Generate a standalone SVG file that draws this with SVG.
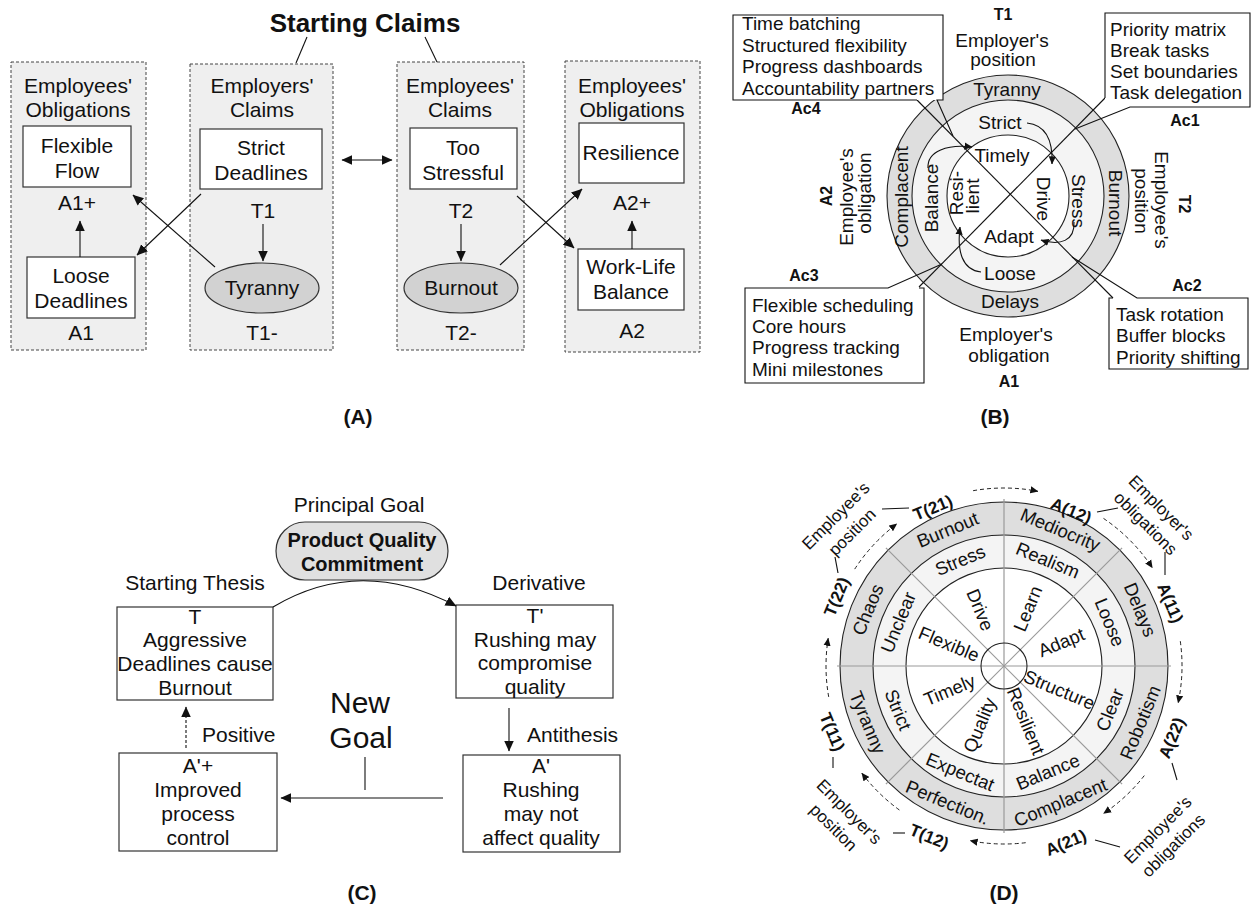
<svg xmlns="http://www.w3.org/2000/svg" width="1252" height="922" viewBox="0 0 1252 922">
<defs>
<marker id="ah" viewBox="0 0 10 10" refX="9.5" refY="5" markerWidth="11" markerHeight="11" markerUnits="userSpaceOnUse" orient="auto-start-reverse"><path d="M0,0.5 L10,5 L0,9.5 Z" fill="#111"/></marker>
<marker id="ahs" viewBox="0 0 10 10" refX="9.5" refY="5" markerWidth="8" markerHeight="8" markerUnits="userSpaceOnUse" orient="auto"><path d="M0,0.5 L10,5 L0,9.5 Z" fill="#111"/></marker>
<style>
text { font-family: "Liberation Sans", Arial, sans-serif; fill: #111; }
.a { font-size: 21px; text-anchor: middle; }
.title { font-size: 26px; font-weight: bold; text-anchor: middle; }
.lbl { font-size: 21px; font-weight: bold; text-anchor: middle; }
.b { font-size: 19px; }
.bm { font-size: 19px; text-anchor: middle; }
.bc { font-size: 19px; text-anchor: middle; dominant-baseline: central; }
.bb { font-size: 16px; font-weight: bold; text-anchor: middle; }
.bbc { font-size: 16px; font-weight: bold; text-anchor: middle; dominant-baseline: central; }
.c { font-size: 21px; text-anchor: middle; }
.cs { font-size: 21px; }
.cb { font-size: 20px; font-weight: bold; text-anchor: middle; }
.big { font-size: 30px; text-anchor: middle; }
.d { font-size: 18.5px; text-anchor: middle; dominant-baseline: central; }
.dl { font-size: 17px; text-anchor: middle; dominant-baseline: central; }
.db { font-size: 17px; font-weight: bold; text-anchor: middle; dominant-baseline: central; }
.grp { fill: #efefef; stroke: #444; stroke-width: 1; stroke-dasharray: 3 2; }
.box { fill: #fff; stroke: #333; stroke-width: 1.2; }
.ell { fill: #d2d2d2; stroke: #333; stroke-width: 1.2; }
.ln { stroke: #111; stroke-width: 1.1; fill: none; }
.arr { stroke: #111; stroke-width: 1.1; fill: none; marker-end: url(#ah); }
.dash { stroke: #111; stroke-width: 1.1; fill: none; stroke-dasharray: 3 2; marker-end: url(#ah); }
.darc { stroke: #222; stroke-width: 1; fill: none; stroke-dasharray: 4 3; marker-end: url(#ahs); }
.ring1 { fill: #dedede; stroke: #222; stroke-width: 1.1; }
.ring2 { fill: #f4f4f4; stroke: #222; stroke-width: 1.1; }
.ring3 { fill: #fff; stroke: #222; stroke-width: 1.1; }
.spoke { stroke: #999; stroke-width: 1.2; }
</style>
</defs>
<rect width="1252" height="922" fill="#fff"/>

<!-- ================= PANEL A ================= -->
<g id="A-title">
<text class="title" x="365" y="32">Starting Claims</text>
</g>
<g id="A-box1">
<rect class="grp" x="11" y="62" width="135" height="288"/>
<text class="a" x="78" y="93">Employees'</text>
<text class="a" x="78" y="117">Obligations</text>
</g>
<g id="A-flexflow"><rect class="box" x="23" y="126" width="108" height="61"/><text class="a" x="77" y="153">Flexible</text><text class="a" x="77" y="178">Flow</text><text class="a" x="77" y="210">A1+</text></g>
<g id="A-loose"><rect class="box" x="27" y="257" width="108" height="61"/><text class="a" x="81" y="283">Loose</text><text class="a" x="81" y="308">Deadlines</text><text class="a" x="81" y="340">A1</text></g>

<g id="A-box2">
<rect class="grp" x="190" y="64" width="143" height="286"/>
<text class="a" x="262" y="93">Employers'</text>
<text class="a" x="262" y="117">Claims</text>
</g>
<g id="A-strict"><rect class="box" x="200" y="129" width="122" height="60"/><text class="a" x="261" y="155">Strict</text><text class="a" x="261" y="180">Deadlines</text><text class="a" x="263" y="218">T1</text></g>
<g id="A-tyranny"><ellipse class="ell" cx="262" cy="288" rx="57" ry="25"/><text class="a" x="262" y="295">Tyranny</text><text class="a" x="262" y="340">T1-</text></g>

<g id="A-box3">
<rect class="grp" x="397" y="62" width="127" height="288"/>
<text class="a" x="460" y="93">Employees'</text>
<text class="a" x="460" y="117">Claims</text>
</g>
<g id="A-stressful"><rect class="box" x="410" y="128" width="107" height="61"/><text class="a" x="463" y="155">Too</text><text class="a" x="463" y="180">Stressful</text><text class="a" x="461" y="218">T2</text></g>
<g id="A-burnout"><ellipse class="ell" cx="461" cy="288" rx="57" ry="25"/><text class="a" x="461" y="295">Burnout</text><text class="a" x="461" y="340">T2-</text></g>

<g id="A-box4">
<rect class="grp" x="565" y="61" width="135" height="291"/>
<text class="a" x="632" y="93">Employees'</text>
<text class="a" x="632" y="117">Obligations</text>
</g>
<g id="A-resilience"><rect class="box" x="579" y="123" width="105" height="60"/><text class="a" x="631" y="160">Resilience</text><text class="a" x="632" y="210">A2+</text></g>
<g id="A-worklife"><rect class="box" x="578" y="249" width="106" height="61"/><text class="a" x="631" y="274">Work-Life</text><text class="a" x="631" y="299">Balance</text><text class="a" x="632" y="338">A2</text></g>

<g id="A-connectors">
<line class="ln" x1="307" y1="37" x2="296" y2="63"/>
<line class="ln" x1="425" y1="37" x2="437" y2="62"/>
<line class="arr" x1="80" y1="257" x2="80" y2="221"/>
<line class="arr" x1="263" y1="224" x2="263" y2="261"/>
<line class="arr" x1="461" y1="224" x2="461" y2="261"/>
<line class="arr" x1="632" y1="249" x2="632" y2="221"/>
<line class="arr" x1="201" y1="194" x2="137" y2="255"/>
<line class="arr" x1="215" y1="267" x2="133" y2="195"/>
<line class="arr" x1="517" y1="196" x2="574" y2="248"/>
<line class="arr" x1="500" y1="265" x2="582" y2="189"/>
<line class="arr" x1="342" y1="160" x2="392" y2="160" style="marker-start:url(#ah)"/>
</g>
<text class="lbl" x="358" y="424">(A)</text>

<!-- ================= PANEL B ================= -->
<g id="B-rings">
<circle class="ring1" cx="1008" cy="196" r="121"/>
<circle class="ring2" cx="1008" cy="196" r="96"/>
<circle class="ring3" cx="1008" cy="196" r="61"/>
</g>
<g id="B-connectors">
<line class="ln" x1="917" y1="100" x2="1113" y2="298"/>
<line class="ln" x1="919" y1="287" x2="1105" y2="98"/>
<path class="arr" d="M1027,123 C1046,125 1053,141 1052,164" style="marker-end:url(#ahs)"/>
<path class="arr" d="M928,168 C927,151 948,144 972,147" style="marker-end:url(#ahs)"/>
<path class="arr" d="M981,272 C962,270 957,251 960,227" style="marker-end:url(#ahs)"/>
<path class="arr" d="M1074,222 C1075,241 1060,246 1041,240" style="marker-end:url(#ahs)"/>
</g>
<g id="B-ring-labels">
<text class="bm" x="1007" y="96">Tyranny</text>
<text class="bm" x="1000" y="129">Strict</text>
<text class="bm" x="1002" y="162">Timely</text>
<text class="bc" transform="translate(1043,199) rotate(90)">Drive</text>
<text class="bc" transform="translate(1078,201) rotate(90)">Stress</text>
<text class="bc" transform="translate(1115,203) rotate(90)">Burnout</text>
<text class="bc" transform="translate(901,197) rotate(-90)">Complacent</text>
<text class="bc" transform="translate(931,198) rotate(-90)">Balance</text>
<text class="bc" transform="translate(956,193) rotate(-90)">Resi-</text>
<text class="bc" transform="translate(972,196) rotate(-90)">lient</text>
<text class="bm" x="1009" y="243">Adapt</text>
<text class="bm" x="1010" y="280">Loose</text>
<text class="bm" x="1010" y="308">Delays</text>
</g>
<g id="B-positions">
<text class="bb" x="1003" y="20">T1</text>
<text class="bm" x="1002" y="47">Employer's</text>
<text class="bm" x="1003" y="66">position</text>
<text class="bc" transform="translate(1161,200) rotate(90)">Employee's</text>
<text class="bc" transform="translate(1141,201) rotate(90)">position</text>
<text class="bbc" transform="translate(1184,204) rotate(90)">T2</text>
<text class="bbc" transform="translate(826,196) rotate(-90)">A2</text>
<text class="bc" transform="translate(846,197) rotate(-90)">Employee's</text>
<text class="bc" transform="translate(864,193) rotate(-90)">obligation</text>
<text class="bm" x="1006" y="341">Employer's</text>
<text class="bm" x="1009" y="362">obligation</text>
<text class="bb" x="1009" y="387">A1</text>
</g>
<g id="B-Ac4">
<rect x="733" y="15" width="210" height="85" fill="#fff"/>
<path class="ln" d="M917,100 H733 V15 H943 V100 H937 L953,136"/>
<text class="b" x="742" y="30">Time batching</text>
<text class="b" x="742" y="52">Structured flexibility</text>
<text class="b" x="742" y="73">Progress dashboards</text>
<text class="b" x="742" y="95">Accountability partners</text>
<text class="bb" x="806" y="114">Ac4</text>
</g>
<g id="B-Ac1">
<rect x="1105" y="13" width="145" height="94" fill="#fff"/>
<path class="ln" d="M1105,98 V13 H1250 V107 H1130 L1075,129"/>
<text class="b" x="1110" y="36">Priority matrix</text>
<text class="b" x="1110" y="57">Break tasks</text>
<text class="b" x="1110" y="78">Set boundaries</text>
<text class="b" x="1110" y="99">Task delegation</text>
<text class="bb" x="1185" y="126">Ac1</text>
</g>
<g id="B-Ac3">
<rect x="745" y="288" width="179" height="95" fill="#fff"/>
<path class="ln" d="M919,288 H924 V383 H745 V288 H888 L942,264"/>
<text class="b" x="752" y="312">Flexible scheduling</text>
<text class="b" x="752" y="333">Core hours</text>
<text class="b" x="752" y="354">Progress tracking</text>
<text class="b" x="752" y="376">Mini milestones</text>
<text class="bb" x="804" y="281">Ac3</text>
</g>
<g id="B-Ac2">
<rect x="1109" y="298" width="139" height="71" fill="#fff"/>
<path class="ln" d="M1113,298 H1109 V369 H1248 V298 H1137 L1072,257"/>
<text class="b" x="1116" y="321">Task rotation</text>
<text class="b" x="1116" y="342">Buffer blocks</text>
<text class="b" x="1116" y="364">Priority shifting</text>
<text class="bb" x="1187" y="291">Ac2</text>
</g>
<text class="lbl" x="995" y="424">(B)</text>

<!-- ================= PANEL C ================= -->
<g id="C-goal">
<text class="c" x="359" y="512">Principal Goal</text>
<rect x="276" y="522" width="172" height="58" rx="29" fill="#e0e0e0" stroke="#333" stroke-width="1.2"/>
<text class="cb" x="362" y="547">Product Quality</text>
<text class="cb" x="362" y="571">Commitment</text>
</g>
<g id="C-T">
<text class="c" x="195" y="590">Starting Thesis</text>
<rect class="box" x="117" y="607" width="156" height="93"/>
<text class="c" x="195" y="624">T</text>
<text class="c" x="195" y="647">Aggressive</text>
<text class="c" x="195" y="671">Deadlines cause</text>
<text class="c" x="195" y="695">Burnout</text>
</g>
<g id="C-Tp">
<text class="c" x="539" y="590">Derivative</text>
<rect class="box" x="456" y="605" width="157" height="93"/>
<text class="c" x="535" y="623">T'</text>
<text class="c" x="535" y="647">Rushing may</text>
<text class="c" x="535" y="670">compromise</text>
<text class="c" x="535" y="694">quality</text>
</g>
<g id="C-Ap">
<rect class="box" x="463" y="755" width="157" height="97"/>
<text class="c" x="541" y="773">A'</text>
<text class="c" x="541" y="797">Rushing</text>
<text class="c" x="541" y="821">may not</text>
<text class="c" x="541" y="845">affect quality</text>
</g>
<g id="C-App">
<rect class="box" x="119" y="753" width="158" height="98"/>
<text class="c" x="198" y="773">A'+</text>
<text class="c" x="198" y="797">Improved</text>
<text class="c" x="198" y="821">process</text>
<text class="c" x="198" y="845">control</text>
</g>
<g id="C-newgoal">
<text class="big" x="360" y="713">New</text>
<text class="big" x="361" y="748">Goal</text>
</g>
<g id="C-connectors">
<path class="arr" d="M273,607 Q360,555 456,606"/>
<line class="arr" x1="509" y1="708" x2="509" y2="751"/>
<text class="cs" x="527" y="742">Antithesis</text>
<line class="dash" x1="186" y1="748" x2="186" y2="707"/>
<text class="cs" x="202" y="742">Positive</text>
<line class="ln" x1="365" y1="757" x2="365" y2="790"/>
<line class="arr" x1="443" y1="798" x2="281" y2="798"/>
</g>
<text class="lbl" x="362" y="900">(C)</text>

<!-- ================= PANEL D ================= -->
<g id="D-wheel">
<circle class="ring1" cx="1004" cy="666" r="164"/>
<circle class="ring2" cx="1004" cy="666" r="131"/>
<circle class="ring3" cx="1004" cy="666" r="98"/>
<line class="spoke" x1="1004" y1="499" x2="1004" y2="833"/>
<line class="spoke" x1="837" y1="666" x2="1171" y2="666"/>
<line class="spoke" x1="885.9" y1="547.9" x2="1122.1" y2="784.1"/>
<line class="spoke" x1="1122.1" y1="547.9" x2="885.9" y2="784.1"/>
<circle cx="1004" cy="666" r="23" fill="none" stroke="#222" stroke-width="1.1"/>
</g>
<g id="D-outer">
<text class="d" transform="translate(1060.4,529.7) rotate(22.5)">Mediocrity</text>
<text class="d" transform="translate(1140.3,609.6) rotate(67.5)">Delays</text>
<text class="d" transform="translate(1140.3,722.4) rotate(-67.5)">Robotism</text>
<text class="d" transform="translate(1060.4,802.3) rotate(-22.5)">Complacent</text>
<text class="d" transform="translate(947.6,802.3) rotate(22.5)">Perfection.</text>
<text class="d" transform="translate(867.7,722.4) rotate(67.5)">Tyranny</text>
<text class="d" transform="translate(867.7,609.6) rotate(-67.5)">Chaos</text>
<text class="d" transform="translate(947.6,529.7) rotate(-22.5)">Burnout</text>
</g>
<g id="D-middle">
<text class="d" transform="translate(1047.8,560.2) rotate(22.5)">Realism</text>
<text class="d" transform="translate(1109.8,622.2) rotate(67.5)">Loose</text>
<text class="d" transform="translate(1109.8,709.8) rotate(-67.5)">Clear</text>
<text class="d" transform="translate(1047.8,771.8) rotate(-22.5)">Balance</text>
<text class="d" transform="translate(960.2,771.8) rotate(22.5)">Expectat</text>
<text class="d" transform="translate(898.2,709.8) rotate(67.5)">Strict</text>
<text class="d" transform="translate(898.2,622.2) rotate(-67.5)">Unclear</text>
<text class="d" transform="translate(960.2,560.2) rotate(-22.5)">Stress</text>
</g>
<g id="D-inner">
<text class="d" transform="translate(1027.7,608.7) rotate(-67.5)">Learn</text>
<text class="d" transform="translate(1061.3,642.3) rotate(-22.5)">Adapt</text>
<text class="d" transform="translate(1059.4,689.7) rotate(22.5)">Structure</text>
<text class="d" transform="translate(1026,721) rotate(67.5)">Resilient</text>
<text class="d" transform="translate(979.5,725) rotate(-67.5)">Quality</text>
<text class="d" transform="translate(949.5,690) rotate(-22.5)">Timely</text>
<text class="d" transform="translate(949,644) rotate(22.5)">Flexible</text>
<text class="d" transform="translate(980.3,609.7) rotate(67.5)">Drive</text>
</g>
<g id="D-labels">
<text class="db" transform="translate(933,508) rotate(-22.5)">T(21)</text>
<text class="db" transform="translate(837,597) rotate(-67.5)">T(22)</text>
<text class="db" transform="translate(1071,511) rotate(22.5)">A(12)</text>
<text class="db" transform="translate(1170,603) rotate(67.5)">A(11)</text>
<text class="db" transform="translate(1172,738) rotate(-67.5)">A(22)</text>
<text class="db" transform="translate(1066,843) rotate(-22.5)">A(21)</text>
<text class="db" transform="translate(929,837) rotate(22.5)">T(12)</text>
<text class="db" transform="translate(832,732) rotate(67.5)">T(11)</text>
<g transform="translate(836,516) rotate(-45)"><text class="dl" x="0" y="0">Employee's</text><text class="dl" x="0" y="23">position</text></g>
<g transform="translate(1161,508) rotate(45)"><text class="dl" x="0" y="0">Employer's</text><text class="dl" x="0" y="22">obligations</text></g>
<g transform="translate(1158,830) rotate(-45)"><text class="dl" x="0" y="0">Employee's</text><text class="dl" x="0" y="22">obligations</text></g>
<g transform="translate(849,812) rotate(45)"><text class="dl" x="0" y="0">Employer's</text><text class="dl" x="0" y="22">position</text></g>
</g>
<g id="D-connectors">
<line class="ln" x1="882" y1="509" x2="909" y2="508"/>
<line class="ln" x1="835" y1="557" x2="838" y2="573"/>
<line class="ln" x1="1097" y1="512" x2="1118" y2="508"/>
<line class="ln" x1="1165" y1="552" x2="1165" y2="575"/>
<line class="ln" x1="1172" y1="763" x2="1177" y2="780"/>
<line class="ln" x1="1095" y1="840" x2="1120" y2="847"/>
<line class="ln" x1="893" y1="833" x2="905" y2="833"/>
<line class="ln" x1="833" y1="757" x2="833" y2="768"/>
<path class="darc" d="M854.7,569.1 A178,178 0 0 1 896.9,523.8"/>
<path class="darc" d="M973.1,490.7 A178,178 0 0 1 1038,491.3"/>
<path class="darc" d="M1103.5,518.4 A178,178 0 0 1 1152.4,567.8"/>
<path class="darc" d="M1180.3,641.2 A178,178 0 0 1 1178.1,703"/>
<path class="darc" d="M1144.3,775.6 A178,178 0 0 1 1103.5,813.6"/>
<path class="darc" d="M1025.7,842.7 A178,178 0 0 1 970,840.7"/>
<path class="darc" d="M899.4,810 A178,178 0 0 1 861.8,773.1"/>
<path class="darc" d="M828.7,696.9 A178,178 0 0 1 828.2,638.2"/>
</g>
<text class="lbl" x="1004" y="900">(D)</text>
</svg>
